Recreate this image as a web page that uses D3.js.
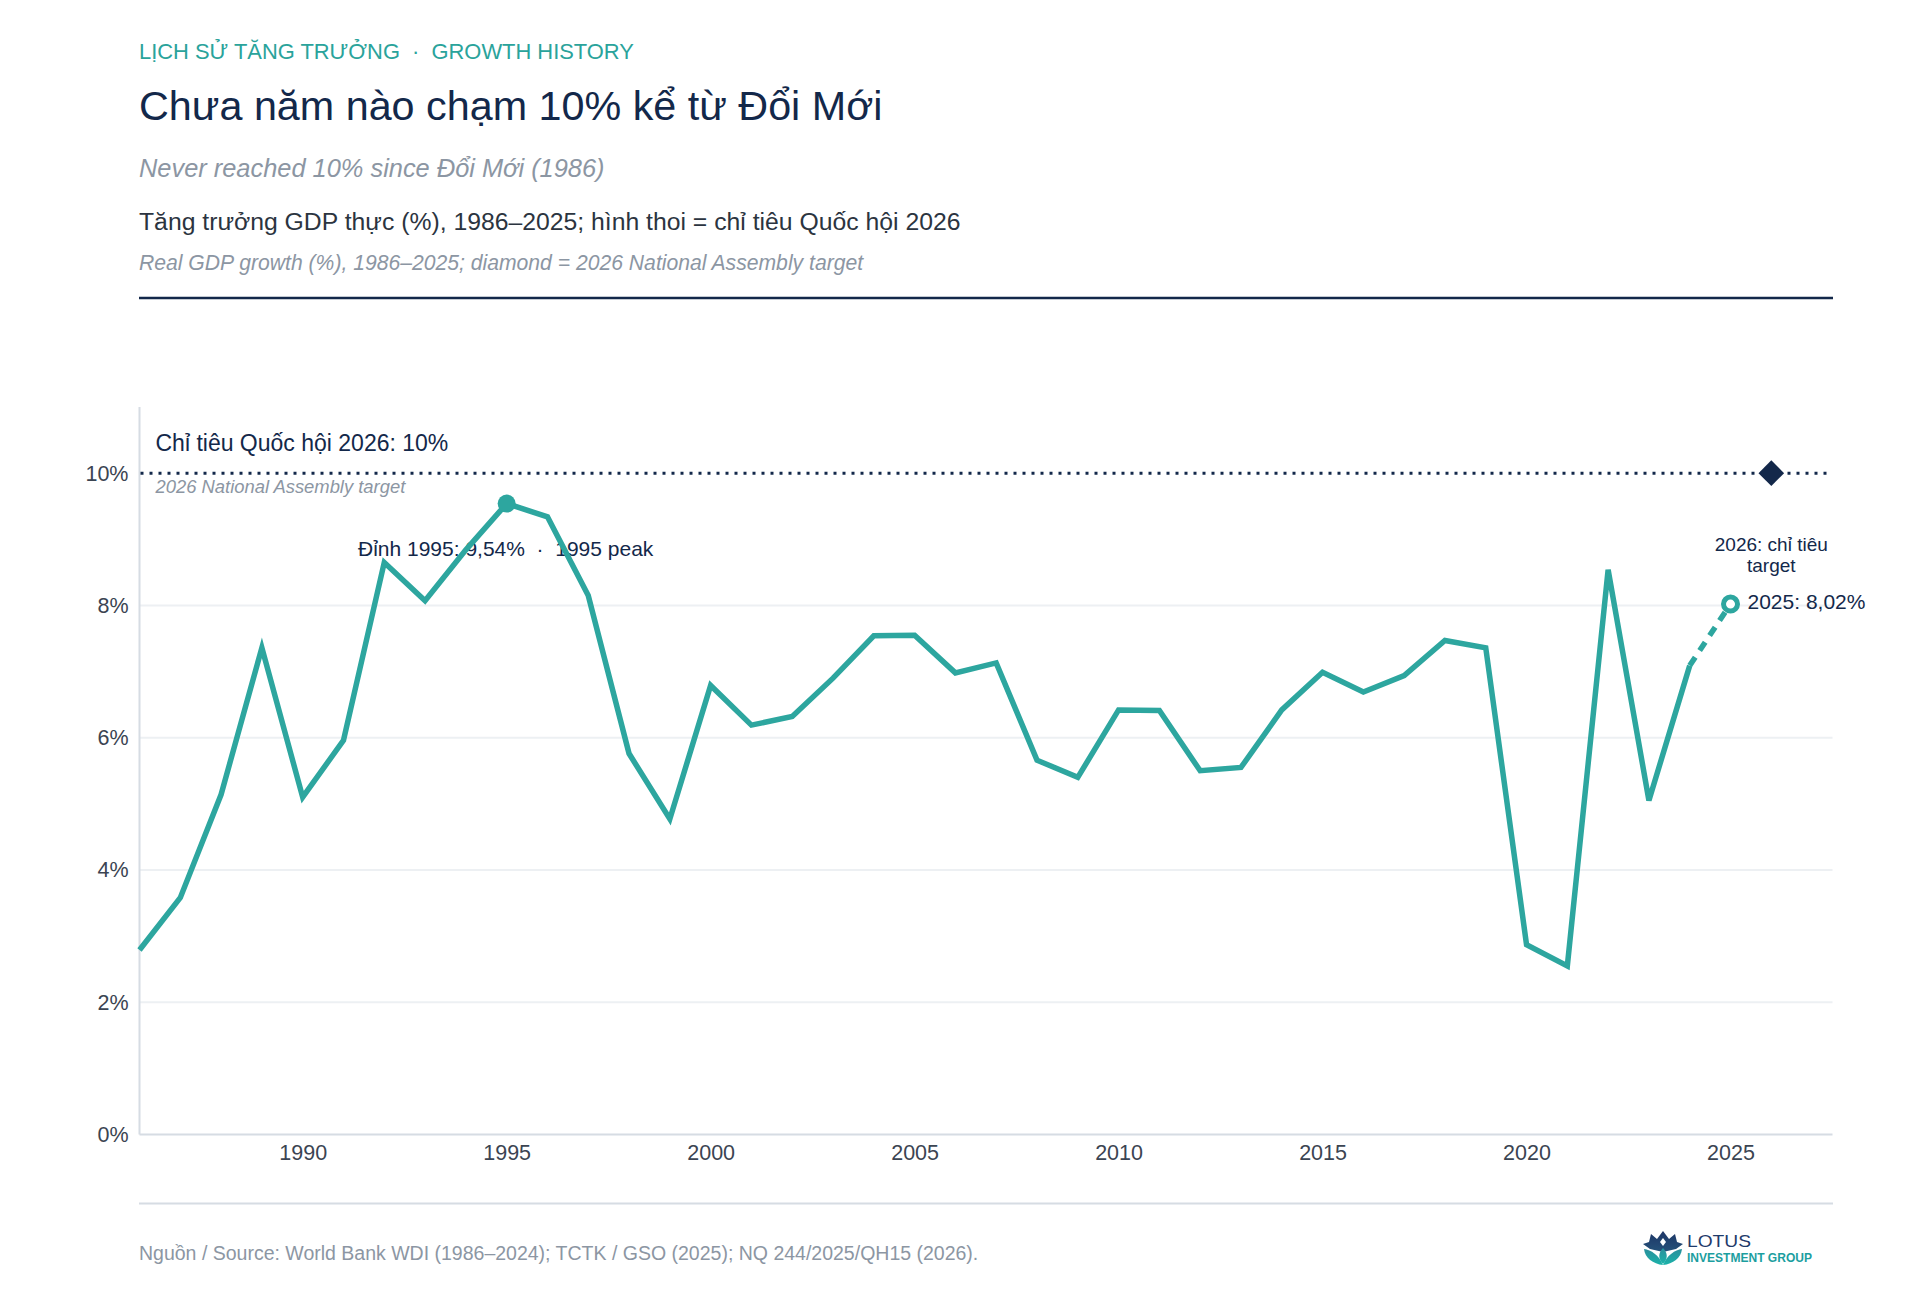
<!DOCTYPE html>
<html><head><meta charset="utf-8">
<script src="https://cdn.jsdelivr.net/npm/d3@7"></script>
<style>
html,body{margin:0;padding:0;background:#fff;}
svg{display:block;font-family:"Liberation Sans", Arial, Helvetica, sans-serif;}
</style></head><body>
<svg id="chart" width="1925" height="1312"></svg>
<script>
// ---- data ----
const years = [1986,1987,1988,1989,1990,1991,1992,1993,1994,1995,1996,1997,1998,1999,2000,
  2001,2002,2003,2004,2005,2006,2007,2008,2009,2010,2011,2012,2013,2014,2015,2016,2017,2018,
  2019,2020,2021,2022,2023,2024,2025];
const growth = [2.79,3.58,5.14,7.36,5.10,5.96,8.65,8.07,8.84,9.54,9.34,8.15,5.76,4.77,6.79,
  6.19,6.32,6.90,7.54,7.55,6.98,7.13,5.66,5.40,6.42,6.41,5.50,5.55,6.42,6.99,6.69,6.94,7.47,
  7.36,2.87,2.55,8.54,5.05,7.09,8.02];
const targetYear = 2026;
const targetValue = 10;
const peakYear = 1995;
const lastActualYear = 2024;   // solid line ends here; 2025 is dashed
const xTickValues = [1990,1995,2000,2005,2010,2015,2020,2025];
const yTickValues = [0,2,4,6,8,10];

const kicker = "LỊCH SỬ TĂNG TRƯỞNG\u00a0\u00a0·\u00a0\u00a0GROWTH HISTORY";
const title = "Chưa năm nào chạm 10% kể từ Đổi Mới";
const subtitle = "Never reached 10% since Đổi Mới (1986)";
const descVi = "Tăng trưởng GDP thực (%), 1986–2025; hình thoi = chỉ tiêu Quốc hội 2026";
const descEn = "Real GDP growth (%), 1986–2025; diamond = 2026 National Assembly target";
const targetLabelVi = "Chỉ tiêu Quốc hội 2026: 10%";
const targetLabelEn = "2026 National Assembly target";
const peakLabel = "Đỉnh 1995: 9,54%\u00a0\u00a0·\u00a0\u00a01995 peak";
const targetNote = ["2026: chỉ tiêu", "target"];
const lastLabel = "2025: 8,02%";
const source = "Nguồn / Source: World Bank WDI (1986–2024); TCTK / GSO (2025); NQ 244/2025/QH15 (2026).";

// ---- style ----
const TEAL = "#2da69f", NAVY = "#13284a", GREY = "#8c96a3", DARK = "#2b3440",
      TICK = "#3b4452", AXIS = "#d6dce3", GRID = "#edf0f3";

const data = years.map((y,i)=>({year:y, value:growth[i]}));
const svg = d3.select("#chart");
svg.append("rect").attr("width",1925).attr("height",1312).attr("fill","#fff");

// ---- header ----
const hx = 139;
svg.append("text").attr("x",hx).attr("y",59).attr("font-size",21.9).attr("fill","#2aa39b").text(kicker);
svg.append("text").attr("x",hx).attr("y",120).attr("font-size",41.3).attr("fill",NAVY).text(title);
svg.append("text").attr("x",hx).attr("y",177).attr("font-size",25.4).attr("font-style","italic").attr("fill",GREY).text(subtitle);
svg.append("text").attr("x",hx).attr("y",229.5).attr("font-size",24.75).attr("fill",DARK).text(descVi);
svg.append("text").attr("x",hx).attr("y",269.5).attr("font-size",21.15).attr("font-style","italic").attr("fill",GREY).text(descEn);
svg.append("line").attr("x1",139).attr("x2",1833).attr("y1",298).attr("y2",298).attr("stroke",NAVY).attr("stroke-width",2.5);

// ---- scales ----
const x = d3.scaleLinear().domain([1986, 2027.5]).range([139.5, 1832.5]);
const y = d3.scaleLinear().domain([0, 11]).range([1134.5, 407]);

const g = svg.append("g");

// gridlines
g.selectAll("line.grid").data(yTickValues.filter(v=>v>0 && v<targetValue)).join("line")
  .attr("class","grid").attr("x1",x.range()[0]).attr("x2",x.range()[1])
  .attr("y1",d=>y(d)).attr("y2",d=>y(d)).attr("stroke",GRID).attr("stroke-width",2);

// axes
const xAxis = g.append("g").attr("transform",`translate(0,${y(0)})`)
  .call(d3.axisBottom(x).tickValues(xTickValues).tickFormat(d3.format("d")).tickSize(0).tickPadding(10));
xAxis.select(".domain").remove();
xAxis.selectAll("text").attr("font-size",21.5).attr("fill",TICK).attr("font-family",null);

const yAxis = g.append("g").attr("transform",`translate(${x(1986)},0)`)
  .call(d3.axisLeft(y).tickValues(yTickValues).tickFormat(d=>d+"%").tickSize(0).tickPadding(11));
yAxis.select(".domain").remove();
yAxis.selectAll("text").attr("font-size",21.5).attr("fill",TICK).attr("font-family",null);

g.append("line").attr("x1",x(1986)).attr("x2",x(1986)).attr("y1",y.range()[1]).attr("y2",y(0))
  .attr("stroke",AXIS).attr("stroke-width",2);
g.append("line").attr("x1",x(1986)).attr("x2",x.range()[1]).attr("y1",y(0)).attr("y2",y(0))
  .attr("stroke",AXIS).attr("stroke-width",2);

// target line
g.append("line").attr("x1",x(1986)+1).attr("x2",x.range()[1]).attr("y1",y(targetValue)).attr("y2",y(targetValue))
  .attr("stroke",NAVY).attr("stroke-width",3).attr("stroke-dasharray","3,6");
g.append("text").attr("x",x(1986)+16).attr("y",y(targetValue)-22.5).attr("font-size",23).attr("fill",NAVY).text(targetLabelVi);
g.append("text").attr("x",x(1986)+16).attr("y",y(targetValue)+20).attr("font-size",18.4).attr("font-style","italic").attr("fill",GREY).text(targetLabelEn);

// peak label (beneath the line)
const peak = data.find(d=>d.year===peakYear);
g.append("text").attr("x",x(peakYear)-1).attr("y",y(peak.value)+52).attr("text-anchor","middle")
  .attr("font-size",21).attr("fill",NAVY).text(peakLabel);

// target note
const tn = g.append("text").attr("text-anchor","middle").attr("font-size",19).attr("fill",NAVY);
targetNote.forEach((t,i)=>tn.append("tspan").attr("x",x(targetYear)).attr("y",y(targetValue)+78+i*21).text(t));

// line
const line = d3.line().x(d=>x(d.year)).y(d=>y(d.value));
g.append("path").datum(data.filter(d=>d.year<=lastActualYear)).attr("d",line)
  .attr("fill","none").attr("stroke",TEAL).attr("stroke-width",5.5).attr("stroke-linejoin","miter");
g.append("path").datum(data.filter(d=>d.year>=lastActualYear)).attr("d",line)
  .attr("fill","none").attr("stroke",TEAL).attr("stroke-width",5.5).attr("stroke-dasharray","10,8");

// markers
g.append("circle").attr("cx",x(peakYear)).attr("cy",y(peak.value)).attr("r",9).attr("fill",TEAL);
const last = data[data.length-1];
g.append("circle").attr("cx",x(last.year)).attr("cy",y(last.value)).attr("r",7)
  .attr("fill","#fff").attr("stroke",TEAL).attr("stroke-width",5);
g.append("text").attr("x",x(last.year)+17).attr("y",y(last.value)+5).attr("font-size",21).attr("fill",NAVY).text(lastLabel);

// diamond
const dx = x(targetYear), dy = y(targetValue), ds = 12.8;
g.append("path").attr("d",`M${dx},${dy-ds}L${dx+ds},${dy}L${dx},${dy+ds}L${dx-ds},${dy}Z`).attr("fill",NAVY);

// ---- footer ----
svg.append("line").attr("x1",139).attr("x2",1833).attr("y1",1203.5).attr("y2",1203.5).attr("stroke",AXIS).attr("stroke-width",2);
svg.append("text").attr("x",139).attr("y",1259.5).attr("font-size",19.5).attr("fill",GREY).text(source);

// logo
const defs = svg.append("defs");
const lgN = defs.append("linearGradient").attr("id","lgN").attr("x1",0).attr("y1",0).attr("x2",0).attr("y2",1);
lgN.append("stop").attr("offset","0").attr("stop-color","#1d3566");
lgN.append("stop").attr("offset","1").attr("stop-color","#25527a");
const lgT = defs.append("linearGradient").attr("id","lgT").attr("x1",0).attr("y1",0).attr("x2",0).attr("y2",1);
lgT.append("stop").attr("offset","0").attr("stop-color","#2a8f9c");
lgT.append("stop").attr("offset","1").attr("stop-color","#1bb3aa");
const logo = svg.append("g").attr("transform","translate(1643,1231)");
logo.append("path").attr("d","M0,13 L6,11 L8,3 L14,8 L20,0 L26,8 L32,3 L34,11 L40,13 L33,18 L20,21 L7,18 Z").attr("fill","url(#lgN)");
logo.append("path").attr("d","M20,7 L23,11 L20,15 L17,11 Z").attr("fill","#fff");
logo.append("path").attr("d","M20,34 C10,33 2,27 1,18 C8,19 16,24 20,34 Z").attr("fill","url(#lgT)");
logo.append("path").attr("d","M20,34 C30,33 38,27 39,18 C32,19 24,24 20,34 Z").attr("fill","url(#lgT)");
logo.append("path").attr("d","M20,33 C15,28 15,22 20,17 C25,22 25,28 20,33 Z").attr("fill","url(#lgT)");
svg.append("text").attr("x",1687).attr("y",1247).attr("font-size",16.5).attr("fill","#1f3b6b")
  .attr("textLength",64).attr("lengthAdjust","spacingAndGlyphs").text("LOTUS");
svg.append("text").attr("x",1687).attr("y",1262).attr("font-size",13).attr("font-weight","bold").attr("fill","#1c9ea0")
  .attr("textLength",125).attr("lengthAdjust","spacingAndGlyphs").text("INVESTMENT GROUP");
</script>
</body></html>
